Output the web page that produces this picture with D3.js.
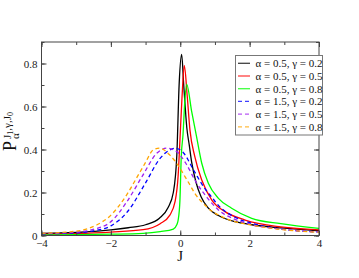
<!DOCTYPE html>
<html><head><meta charset="utf-8">
<script src="https://cdn.jsdelivr.net/npm/d3@7"></script>
<style>html,body{margin:0;padding:0;background:#fff;}svg{display:block;}</style>
</head><body>
<svg id="c" width="359" height="278"></svg>
<script>
// ---- data ----
const xTicks = [-4, -2, 0, 2, 4];
const yTicks = [0, 0.2, 0.4, 0.6, 0.8];
const seriesLabels = ["α = 0.5, γ = 0.2","α = 0.5, γ = 0.5","α = 0.5, γ = 0.8","α = 1.5, γ = 0.2","α = 1.5, γ = 0.5","α = 1.5, γ = 0.8"];
const seriesColors = ["#000000","#ff0000","#00ff00","#0000ff","#a020f0","#ffa500"];
const seriesDashed = [false,false,false,true,true,true];

const J_a05g02 = [-4,-3,-2,-1.5,-1,-0.6,-0.35,-0.2,-0.1,-0.03,0.04,0.1,0.19,0.26,0.33,0.45,0.6,0.81,1.1,1.58,2.06,2.9,4];
const P_a05g02 = [0.010,0.014,0.026,0.036,0.050,0.080,0.130,0.200,0.370,0.710,0.842,0.700,0.500,0.420,0.340,0.250,0.180,0.127,0.093,0.064,0.050,0.035,0.022];

const J_a05g05 = [-4,-3,-2,-1.07,-0.58,-0.3,-0.15,-0.06,-0.01,0.05,0.117,0.2,0.28,0.42,0.62,0.91,1.29,1.87,2.9,4];
const P_a05g05 = [0.006,0.009,0.016,0.027,0.055,0.095,0.157,0.280,0.440,0.640,0.790,0.650,0.490,0.367,0.258,0.165,0.111,0.072,0.040,0.026];

const J_a05g08 = [-4,-3,-2,-1.07,-0.58,-0.2,-0.1,-0.06,-0.01,0.03,0.08,0.13,0.186,0.33,0.47,0.62,0.81,1.1,1.48,2.06,2.9,4];
const P_a05g08 = [0.003,0.004,0.006,0.010,0.018,0.030,0.050,0.072,0.160,0.370,0.470,0.620,0.703,0.576,0.460,0.336,0.243,0.173,0.127,0.080,0.055,0.033];

const J_a15g02 = [-4,-3,-2.5,-2,-1.5,-1,-0.6,-0.3,-0.15,0.09,0.4,0.7,0.9,1.1,1.58,2.06,2.9,4];
const P_a15g02 = [0.008,0.012,0.022,0.045,0.115,0.245,0.355,0.398,0.406,0.385,0.300,0.220,0.180,0.140,0.085,0.057,0.030,0.016];

const J_a15g05 = [-4,-3,-2.41,-2.03,-1.54,-1.08,-0.68,-0.39,-0.1,0.16,0.45,0.78,1.1,1.58,2.06,2.9,4];
const P_a15g05 = [0.009,0.015,0.033,0.060,0.157,0.280,0.382,0.406,0.390,0.336,0.250,0.175,0.119,0.075,0.050,0.030,0.016];

const J_a15g08 = [-4,-3,-2.41,-2.03,-1.54,-1.25,-1.0,-0.78,-0.59,-0.3,-0.01,0.14,0.28,0.42,0.57,0.71,0.86,1.1,1.58,2.06,2.9,4];
const P_a15g08 = [0.010,0.020,0.049,0.090,0.190,0.270,0.340,0.398,0.406,0.374,0.313,0.273,0.235,0.196,0.165,0.142,0.119,0.095,0.064,0.048,0.028,0.015];

const seriesJ = [J_a05g02,J_a05g05,J_a05g08,J_a15g02,J_a15g05,J_a15g08];
const seriesP = [P_a05g02,P_a05g05,P_a05g08,P_a15g02,P_a15g05,P_a15g08];

// ---- layout ----
const L = 41.5, R = 319, T = 42, B = 235.5;
const svg = d3.select("#c");
const x = d3.scaleLinear().domain([-4, 4]).range([L, R]);
const y = d3.scaleLinear().domain([0, 0.9]).range([B, T]);
const font = "'Liberation Serif','Times New Roman',serif";

// clip
svg.append("clipPath").attr("id","clip").append("rect")
  .attr("x", L).attr("y", T).attr("width", R - L).attr("height", B - T);

// curves
const line = d3.line().x(d => x(d[0])).y(d => y(d[1])).curve(d3.curveMonotoneX);
const gC = svg.append("g").attr("clip-path","url(#clip)");
seriesJ.forEach((js, i) => {
  const pts = js.map((j, k) => [j, seriesP[i][k]]);
  gC.append("path").attr("d", line(pts)).attr("fill","none")
    .attr("stroke", seriesColors[i]).attr("stroke-width", 1.3)
    .attr("stroke-dasharray", seriesDashed[i] ? "4,3" : null);
});

// axes (ticks inward, mirrored)
const axColor = "#444";
function styleAxis(g){ g.select(".domain").remove(); g.selectAll("line").attr("stroke", axColor); g.selectAll("text").attr("font-family", font).attr("font-size", 11).attr("fill","#222"); }
const xMinor = d3.range(-4, 4.01, 1);
const yMinor = d3.range(0, 0.901, 0.1);
svg.append("g").attr("transform",`translate(0,${B})`)
  .call(d3.axisBottom(x).tickValues(xMinor).tickSize(-3).tickFormat(""))
  .call(styleAxis);
svg.append("g").attr("transform",`translate(0,${B})`)
  .call(d3.axisBottom(x).tickValues(xTicks).tickSize(-5).tickPadding(4).tickFormat(d3.format("d")))
  .call(styleAxis);
svg.append("g").attr("transform",`translate(0,${T})`)
  .call(d3.axisTop(x).tickValues(xMinor).tickSize(-3).tickFormat("")).call(styleAxis);
svg.append("g").attr("transform",`translate(0,${T})`)
  .call(d3.axisTop(x).tickValues(xTicks).tickSize(-5).tickFormat("")).call(styleAxis);
svg.append("g").attr("transform",`translate(${L},0)`)
  .call(d3.axisLeft(y).tickValues(yMinor).tickSize(-3).tickFormat("")).call(styleAxis);
svg.append("g").attr("transform",`translate(${L},0)`)
  .call(d3.axisLeft(y).tickValues(yTicks).tickSize(-5).tickPadding(4).tickFormat(d => d === 0 ? "0" : d3.format(".1f")(d)))
  .call(styleAxis);
svg.append("g").attr("transform",`translate(${R},0)`)
  .call(d3.axisRight(y).tickValues(yMinor).tickSize(-3).tickFormat("")).call(styleAxis);
svg.append("g").attr("transform",`translate(${R},0)`)
  .call(d3.axisRight(y).tickValues(yTicks).tickSize(-5).tickFormat("")).call(styleAxis);

// frame
svg.append("rect").attr("x", L).attr("y", T).attr("width", R - L).attr("height", B - T)
  .attr("fill","none").attr("stroke", axColor).attr("stroke-width", 1);

// x label
svg.append("text").attr("x", x(0)).attr("y", 261).attr("text-anchor","middle")
  .attr("font-family", font).attr("font-size", 15).attr("fill","#111").text("J");

// y label
const yl = svg.append("g").attr("transform","translate(16,151) rotate(-90)");
yl.append("text").attr("x",0).attr("y",0).attr("font-family",font).attr("font-size",18).attr("fill","#111").text("P");
yl.append("text").attr("x",12).attr("y",3).attr("font-family",font).attr("font-size",11).attr("fill","#111").text("α");
const sup = yl.append("text").attr("x",12).attr("y",-5).attr("font-family",font).attr("font-size",11).attr("fill","#111");
sup.append("tspan").text("J");
sup.append("tspan").attr("font-size",8).attr("dy",2).text("1");
sup.append("tspan").attr("dy",-2).text(",γ,J");
sup.append("tspan").attr("font-size",8).attr("dy",2).text("0");

// legend
const lg = svg.append("g");
lg.append("rect").attr("x",235.5).attr("y",55.5).attr("width",87).attr("height",79.5)
  .attr("fill","#fff").attr("stroke","#777").attr("stroke-width",1);
seriesLabels.forEach((lab, i) => {
  const yy = 63.3 + i * 12.7;
  lg.append("line").attr("x1",238).attr("x2",250).attr("y1",yy).attr("y2",yy)
    .attr("stroke", seriesColors[i]).attr("stroke-width",1.3).attr("opacity",0.75)
    .attr("stroke-dasharray", seriesDashed[i] ? "4,3" : null);
  lg.append("text").attr("x",255.5).attr("y",yy+3.8).attr("font-family",font).attr("font-size",11)
    .attr("fill","#111").text(lab);
});
</script>
</body></html>
